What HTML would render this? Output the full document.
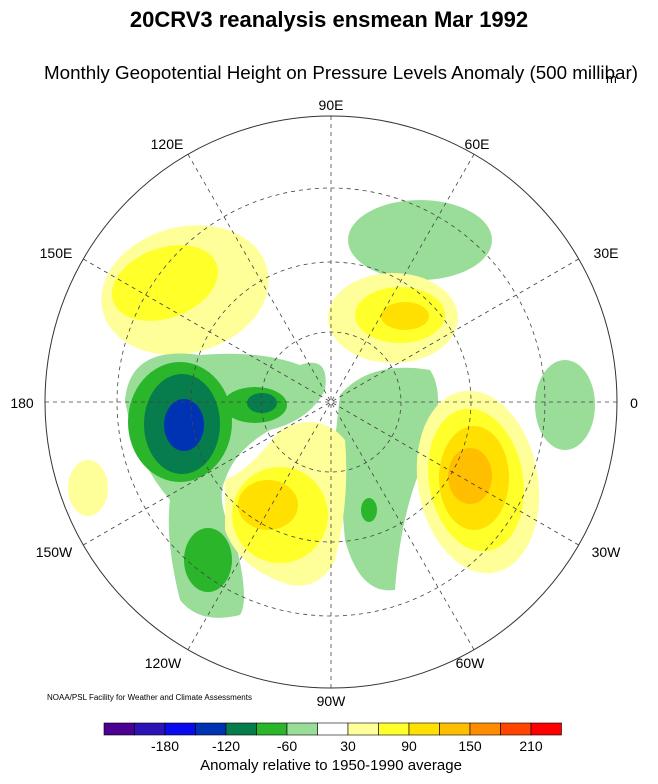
<!DOCTYPE html>
<html><head><style>
body{margin:0;background:#fff;}
svg{display:block;font-family:"Liberation Sans",sans-serif;}
</style></head><body>
<svg width="658" height="784" viewBox="0 0 658 784">
<text x="329" y="27" text-anchor="middle" font-size="22" font-weight="bold">20CRV3 reanalysis ensmean Mar 1992</text>
<text x="44" y="79" font-size="18.8">Monthly Geopotential Height on Pressure Levels Anomaly (500 millibar)</text>
<text x="606" y="83" font-size="13">m</text>
<defs><clipPath id="c"><circle cx="331" cy="402" r="286"/></clipPath></defs>
<g clip-path="url(#c)">
<ellipse cx="185" cy="290" rx="85" ry="63" fill="#ffff99" transform="rotate(-15 185 290)"/>
<ellipse cx="165" cy="283" rx="55" ry="35" fill="#ffff2a" transform="rotate(-20 165 283)"/>
<ellipse cx="420" cy="240" rx="72" ry="40" fill="#99dd99"/>
<ellipse cx="393" cy="318" rx="65" ry="45" fill="#ffff99"/>
<ellipse cx="400" cy="315" rx="45" ry="28" fill="#ffff2a"/>
<ellipse cx="405" cy="316" rx="24" ry="14" fill="#ffe000"/>
<path d="M340 395 Q370 360 430 370 Q450 400 420 470 Q400 520 395 590 Q360 595 345 540 Q340 480 335 440 Z" fill="#99dd99"/>
<ellipse cx="369" cy="510" rx="8" ry="12" fill="#2ab52a"/>
<path d="M125 400 Q130 345 200 355 Q260 350 300 365 Q330 355 325 390 Q310 420 270 430 Q235 450 225 480 Q215 500 235 540 Q250 600 240 615 Q200 625 180 600 Q165 540 170 500 Q135 460 125 400 Z" fill="#99dd99"/>
<ellipse cx="180" cy="422" rx="52" ry="60" fill="#2ab52a"/>
<ellipse cx="255" cy="405" rx="32" ry="18" fill="#2ab52a"/>
<ellipse cx="208" cy="560" rx="24" ry="32" fill="#2ab52a"/>
<ellipse cx="182" cy="424" rx="38" ry="50" fill="#077c4c"/>
<ellipse cx="262" cy="403" rx="15" ry="10" fill="#077c4c"/>
<ellipse cx="184" cy="425" rx="20" ry="26" fill="#0033b3"/>
<path d="M225 480 Q250 470 280 430 Q320 410 345 440 Q350 500 335 560 Q320 590 290 585 Q240 570 225 530 Z" fill="#ffff99"/>
<ellipse cx="280" cy="515" rx="48" ry="48" fill="#ffff2a"/>
<ellipse cx="268" cy="505" rx="30" ry="25" fill="#ffe000"/>
<ellipse cx="478" cy="482" rx="60" ry="92" fill="#ffff99" transform="rotate(-10 478 482)"/>
<ellipse cx="476" cy="480" rx="47" ry="72" fill="#ffff2a" transform="rotate(-10 476 480)"/>
<ellipse cx="474" cy="478" rx="35" ry="52" fill="#ffe000"/>
<ellipse cx="470" cy="476" rx="22" ry="28" fill="#ffbe00"/>
<ellipse cx="565" cy="405" rx="30" ry="45" fill="#99dd99"/>
<ellipse cx="88" cy="488" rx="20" ry="28" fill="#ffff99"/>
</g>
<g fill="none" stroke="#444" stroke-width="0.8" stroke-dasharray="4,4">
<circle cx="331" cy="402" r="214"/>
<circle cx="331" cy="402" r="140"/>
<circle cx="331" cy="402" r="70"/>
<line x1="45" y1="402" x2="617" y2="402"/>
<line x1="331" y1="116" x2="331" y2="688"/>
<line x1="83.3" y1="259" x2="578.7" y2="545"/>
<line x1="83.3" y1="545" x2="578.7" y2="259"/>
<line x1="188" y1="154.3" x2="474" y2="649.7"/>
<line x1="188" y1="649.7" x2="474" y2="154.3"/>
</g>
<circle cx="331" cy="402" r="286" fill="none" stroke="#333" stroke-width="1"/>
<g font-size="14" text-anchor="middle">
<text x="331" y="110">90E</text>
<text x="477" y="149">60E</text>
<text x="606" y="258">30E</text>
<text x="634" y="408">0</text>
<text x="606" y="557">30W</text>
<text x="470" y="668">60W</text>
<text x="331" y="706">90W</text>
<text x="163" y="668">120W</text>
<text x="54" y="557">150W</text>
<text x="22" y="408">180</text>
<text x="56" y="258">150E</text>
<text x="167" y="149">120E</text>
</g>
<text x="47" y="700" font-size="8">NOAA/PSL Facility for Weather and Climate Assessments</text>
<g stroke="#000" stroke-width="0.6">
<rect x="104" y="723" width="30.5" height="12" fill="#4b0091"/>
<rect x="134.5" y="723" width="30.5" height="12" fill="#2a14b8"/>
<rect x="165" y="723" width="30.5" height="12" fill="#0a0aee"/>
<rect x="195.5" y="723" width="30.5" height="12" fill="#0033b3"/>
<rect x="226" y="723" width="30.5" height="12" fill="#077c4c"/>
<rect x="256.5" y="723" width="30.5" height="12" fill="#2ab52a"/>
<rect x="287" y="723" width="30.5" height="12" fill="#99dd99"/>
<rect x="317.5" y="723" width="30.5" height="12" fill="#ffffff"/>
<rect x="348" y="723" width="30.5" height="12" fill="#ffff99"/>
<rect x="378.5" y="723" width="30.5" height="12" fill="#ffff2a"/>
<rect x="409" y="723" width="30.5" height="12" fill="#ffe000"/>
<rect x="439.5" y="723" width="30.5" height="12" fill="#ffbe00"/>
<rect x="470" y="723" width="30.5" height="12" fill="#ff8c00"/>
<rect x="500.5" y="723" width="30.5" height="12" fill="#ff4500"/>
<rect x="531" y="723" width="30.5" height="12" fill="#ff0000"/>
</g>
<g font-size="14" text-anchor="middle">
<text x="165" y="751">-180</text>
<text x="226" y="751">-120</text>
<text x="287" y="751">-60</text>
<text x="348" y="751">30</text>
<text x="409" y="751">90</text>
<text x="470" y="751">150</text>
<text x="531" y="751">210</text>
<text x="331" y="770" font-size="15">Anomaly relative to 1950-1990 average</text>
</g>
</svg>
</body></html>
